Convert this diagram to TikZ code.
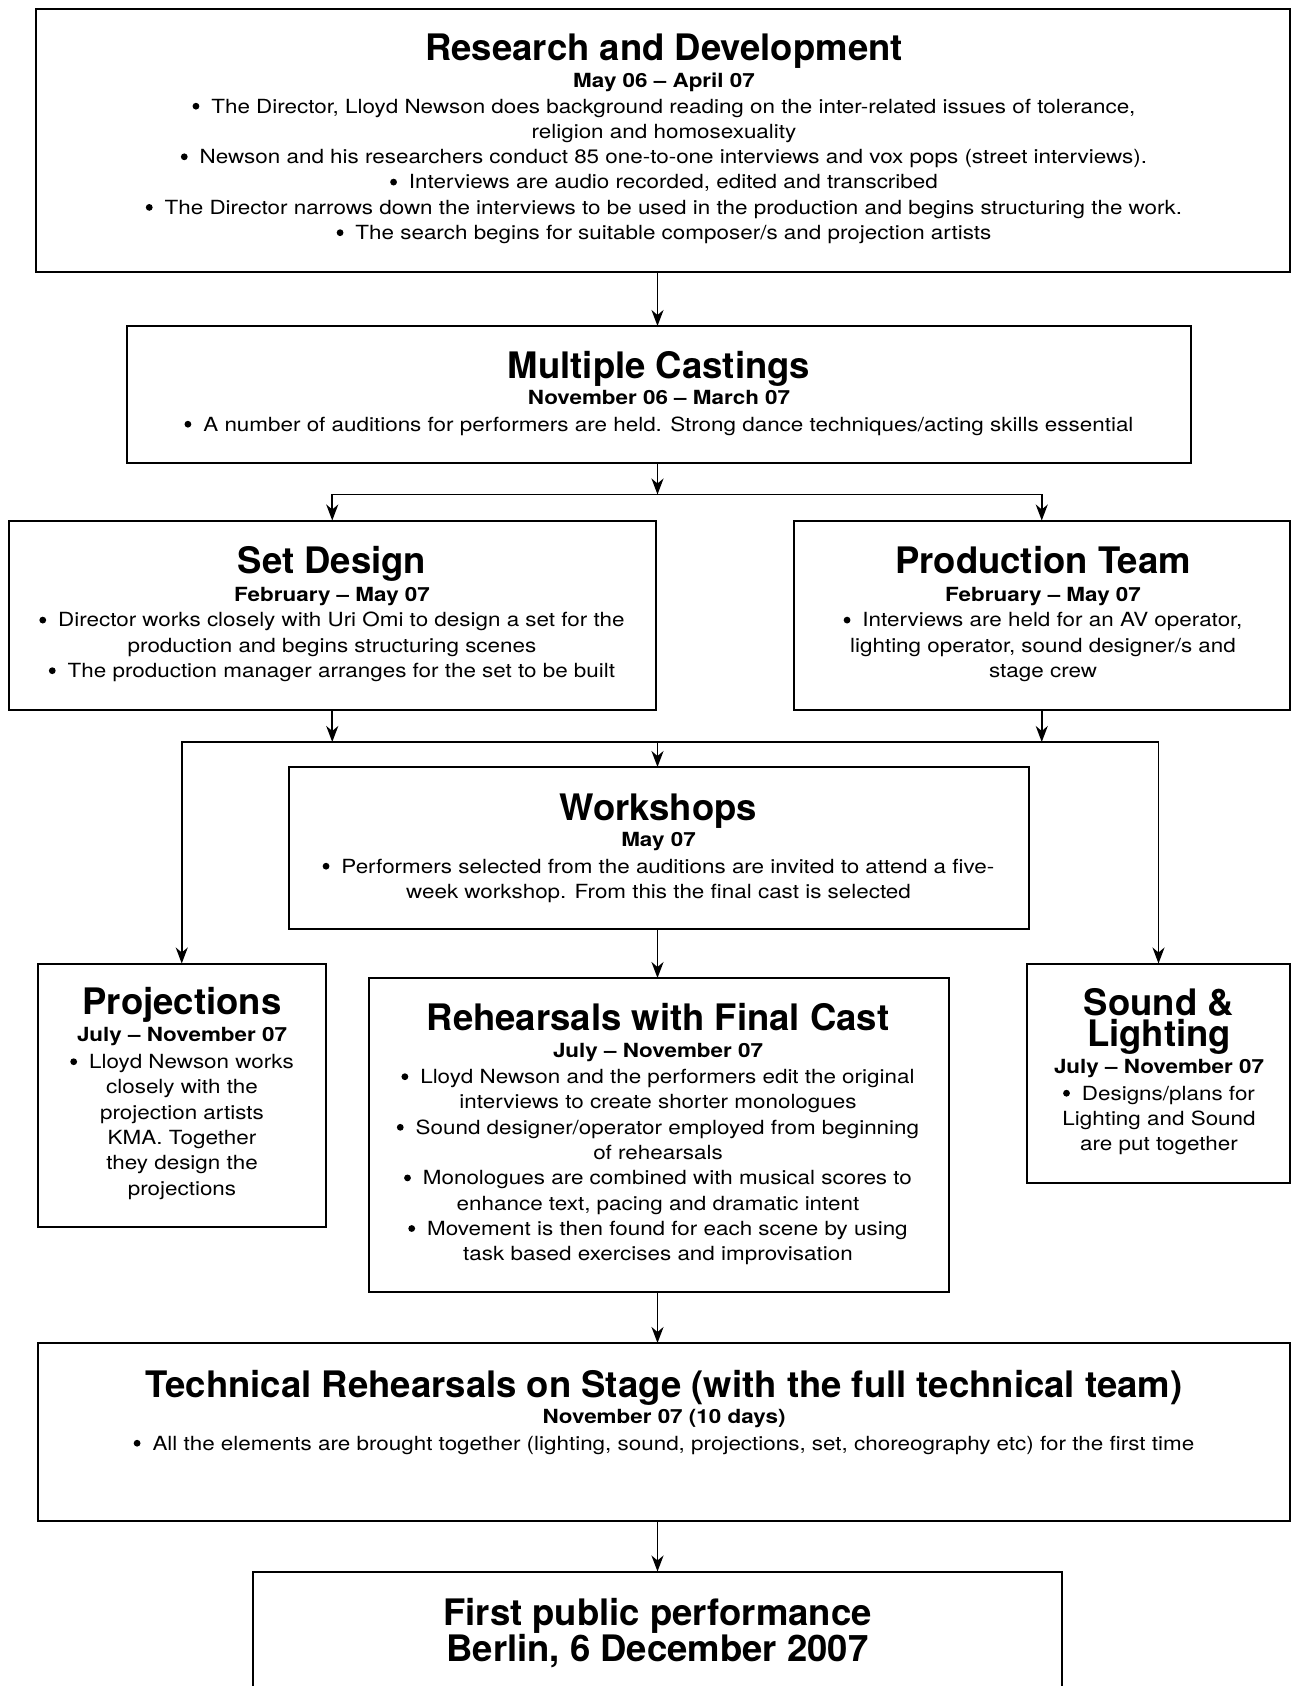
\documentclass[tikz,border=0pt]{standalone}
\usepackage{fontspec}
\setmainfont{TeX Gyre Heros}
\newfontfamily\widefont[FakeStretch=1.15]{TeX Gyre Heros}
\usetikzlibrary{arrows.meta,fit}
\newcommand{\bul}{\raisebox{3.4pt}{\tikz\fill (0,0) circle (3.4pt);}\hspace{12pt}}
\begin{document}
\begin{tikzpicture}[x=1pt,y=-1pt,
  box/.style={draw, line width=2pt, rectangle, inner sep=0pt, outer sep=0pt},
  ttl/.style={anchor=base, inner sep=0pt, align=center, font=\fontsize{36.5}{36}\selectfont\bfseries},
  dat/.style={anchor=base, inner sep=0pt, font=\widefont\fontsize{19.5}{25}\selectfont\bfseries},
  bod/.style={anchor=base, inner sep=0pt, align=center, font=\widefont\fontsize{19.5}{25.3}\selectfont},
  arr/.style={line width=1.8pt, -{Stealth[length=16pt,width=12pt,inset=5pt]}}
]
\useasboundingbox (0,0) rectangle (1292,1686);
\clip (0,0) rectangle (1292,1686);

% boxes
\node[box, fit={(35.5,9) (1290,272)}] (rd) {};
\node[box, fit={(127,326) (1190.5,463)}] (mc) {};
\node[box, fit={(8.5,520.5) (656,709.5)}] (sd) {};
\node[box, fit={(793.5,520.5) (1290,709.5)}] (pt) {};
\node[box, fit={(288.5,767) (1029,929)}] (ws) {};
\node[box, fit={(37.5,963.5) (326,1226.5)}] (proj) {};
\node[box, fit={(368.5,978) (948.5,1292)}] (reh) {};
\node[box, fit={(1027,963.5) (1290,1182.5)}] (sl) {};
\node[box, fit={(37.5,1343) (1290,1520.5)}] (tech) {};
\node[box, fit={(253,1571.5) (1062,1720)}] (fin) {};

% junctions
\coordinate (spine) at (657.5,0);
\coordinate (b1) at (657.5,494.5);
\coordinate (b2) at (657.5,742);

% connectors
\draw[arr] (rd.south -| spine) -- (mc.north -| spine);
\draw[arr] (mc.south -| spine) -- (b1);
\draw[arr] (b1) -| (sd.north);
\draw[arr] (b1) -| (pt.north);
\draw[arr] (sd.south) -- (sd.south |- b2);
\draw[arr] (pt.south) -- (pt.south |- b2);
\draw[arr] (b2) -- (ws.north -| spine);
\draw[arr] (b2) -| (proj.north);
\draw[arr] (b2) -| (sl.north);
\draw[arr] (ws.south -| spine) -- (reh.north -| spine);
\draw[arr] (reh.south -| spine) -- (tech.north -| spine);
\draw[arr] (tech.south -| spine) -- (fin.north -| spine);

% (multi-line text nodes are anchored at the baseline of their last line)

% Research and Development
\node[ttl] (rdT) at (664,61) {Research and Development};
\node[dat] (rdD) at (664,87) {May 06 – April 07};
\node[bod] (rdB) at (664,239.5) {\bul The Director, Lloyd Newson does background reading on the inter-related issues of tolerance,\\
religion and homosexuality\\
\bul Newson and his researchers conduct 85 one-to-one interviews and vox pops (street interviews).\\
\bul Interviews are audio recorded, edited and transcribed\\
\bul The Director narrows down the interviews to be used in the production and begins structuring the work.\\
\bul The search begins for suitable composer/s and projection artists};

% Multiple Castings
\node[ttl] (mcT) at (659,378) {Multiple Castings};
\node[dat] (mcD) at (659,404) {November 06 – March 07};
\node[bod] (mcB) at (659,431) {\bul A number of auditions for performers are held. Strong dance techniques/acting skills essential};

% Set Design
\node[ttl] (sdT) at (332,573) {Set Design};
\node[dat] (sdD) at (332,601) {February – May 07};
\node[bod] (sdB) at (332,677.5) {\bul Director works closely with Uri Omi to design a set for the\\
production and begins structuring scenes\\
\bul The production manager arranges for the set to be built};

% Production Team
\node[ttl] (ptT) at (1043,573) {Production Team};
\node[dat] (ptD) at (1043,601) {February – May 07};
\node[bod] (ptB) at (1043,677.5) {\bul Interviews are held for an AV operator,\\
lighting operator, sound designer/s and\\
stage crew};

% Workshops
\node[ttl] (wsT) at (658.5,820) {Workshops};
\node[dat] (wsD) at (658.5,846.5) {May 07};
\node[bod] (wsB) at (658.5,898.3) {\bul Performers selected from the auditions are invited to attend a five-\\
week workshop. From this the final cast is selected};

% Projections
\node[ttl] (prT) at (182,1014.5) {Projections};
\node[dat] (prD) at (182,1041.5) {July – November 07};
\node[bod] (prB) at (182,1195) {\bul Lloyd Newson works\\
closely with the\\
projection artists\\
KMA. Together\\
they design the\\
projections};

% Rehearsals with Final Cast
\node[ttl] (rhT) at (658,1030) {Rehearsals with Final Cast};
\node[dat] (rhD) at (658,1057) {July – November 07};
\node[bod] (rhB) at (658,1260.6) {\bul Lloyd Newson and the performers edit the original\\
interviews to create shorter monologues\\
\bul Sound designer/operator employed from beginning\\
of rehearsals\\
\bul Monologues are combined with musical scores to\\
enhance text, pacing and dramatic intent\\
\bul Movement is then found for each scene by using\\
task based exercises and improvisation};

% Sound & Lighting
\node[ttl] (slT) at (1159,1046) {Sound \&\\[-5pt] Lighting};
\node[dat] (slD) at (1159,1073) {July – November 07};
\node[bod] (slB) at (1159,1150.6) {\bul Designs/plans for\\
Lighting and Sound\\
are put together};

% Technical Rehearsals
\node[ttl] (tcT) at (664,1397) {Technical Rehearsals on Stage (with the full technical team)};
\node[dat] (tcD) at (664,1423) {November 07 (10 days)};
\node[bod] (tcB) at (664,1450) {\bul All the elements are brought together (lighting, sound, projections, set, choreography etc) for the first time};

% First public performance
\node[ttl] (fnT) at (657.5,1661) {First public performance\\ Berlin, 6 December 2007};
\end{tikzpicture}
\end{document}
